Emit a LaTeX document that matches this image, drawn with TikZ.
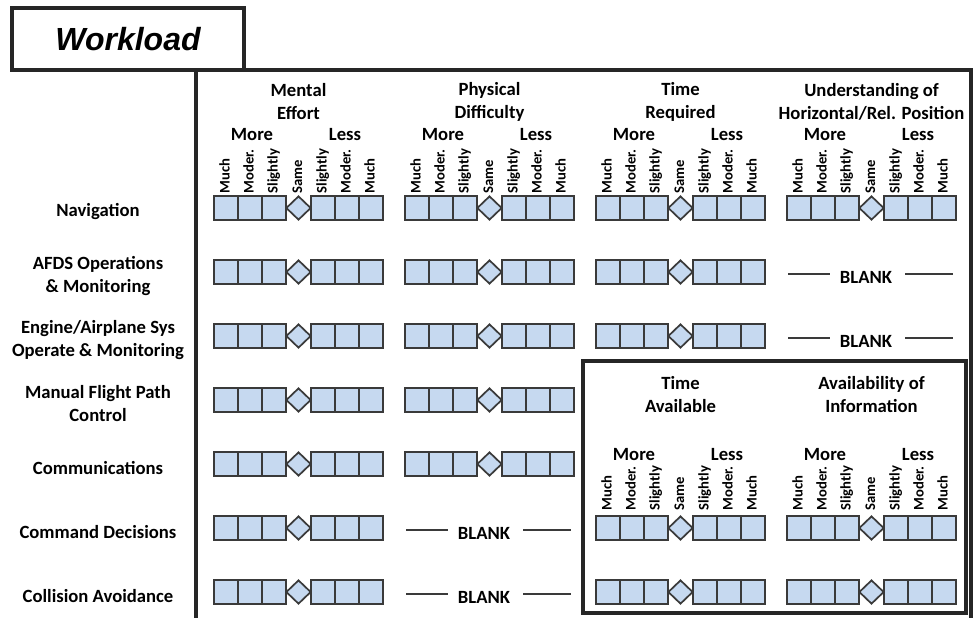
\documentclass[tikz,border=0pt]{standalone}
\usepackage{fontspec}
\setmainfont{Carlito}
\newfontfamily\titlefont{Liberation Sans}
\usepackage{tikz}
\usetikzlibrary{shapes.geometric}
\definecolor{boxfill}{HTML}{C6D9F0}
\definecolor{boxline}{HTML}{3A3A3A}
\definecolor{frameline}{HTML}{262626}

\begin{document}
\begin{tikzpicture}[x=0.75pt, y=-0.75pt, font=\fontsize{14}{17.25}\selectfont\bfseries,
    sq/.style={draw=boxline, fill=boxfill, line width=1.4pt, minimum size=18pt, inner sep=0pt, outer sep=0pt},
    dia/.style={diamond, draw=boxline, fill=boxfill, line width=1.3pt, minimum width=18.75pt, minimum height=18pt, inner sep=0pt},
    framerule/.style={draw=frameline, line width=2.3pt},
    scaletick/.style={rotate=90, anchor=west, inner sep=1pt, text height=8pt, text depth=2.5pt, font=\fontsize{11}{13}\selectfont\bfseries},
    colhead/.style={align=center, inner sep=0pt},
    rowlabel/.style={align=center, inner sep=0pt},
    blankline/.style={draw=boxline, line width=1pt}]
  \useasboundingbox (0,0) rectangle (973,618);

  % title and outer frame
  \node[framerule, minimum width=174pt, minimum height=46.5pt, outer sep=0pt, font=\titlefont\fontsize{24}{28}\selectfont\bfseries\itshape] (title) at (128,39) {Workload};
  \draw[framerule] (title.south east) -- (971,70) -- (971,618);
  \draw[framerule] (196,70) -- (196,618);
  \draw[framerule] (583,361) rectangle (966,613);

  % column heads
  \foreach \hd [count=\c] in {{Mental\\Effort},{Physical\\Difficulty},{Time\\Required},{Understanding of\\Horizontal/Rel. Position}}{
    \pgfmathsetmacro{\xo}{214+191*(\c-1)}
    \node[colhead] (head\c) at ({\xo+84.5},102) {\hd};
    \node[anchor=base, inner sep=0pt] (more\c) at ({\xo+38},140) {More};
    \node[anchor=base, inner sep=0pt] (less\c) at ({\xo+131},140) {Less};
    \foreach \t/\dx [count=\k] in {Much/12,Moder./36,Slightly/60,Same/84.5,Slightly/109,Moder./133,Much/157}
      \node[scaletick] (tick\c-\k) at ({\xo+\dx},195) {\t};
  }
  \foreach \hd [count=\c from 3] in {{Time\\Available},{Availability of\\Information}}{
    \pgfmathsetmacro{\xo}{214+191*(\c-1)}
    \node[colhead] (ihead\c) at ({\xo+84.5},395) {\hd};
    \node[anchor=base, inner sep=0pt] (imore\c) at ({\xo+38},460) {More};
    \node[anchor=base, inner sep=0pt] (iless\c) at ({\xo+131},460) {Less};
    \foreach \t/\dx [count=\k] in {Much/12,Moder./36,Slightly/60,Same/84.5,Slightly/109,Moder./133,Much/157}
      \node[scaletick] (itick\c-\k) at ({\xo+\dx},512) {\t};
  }

  % row labels
  \foreach \lab [count=\r] in {Navigation,{AFDS Operations\\\& Monitoring},{Engine/Airplane Sys\\Operate \& Monitoring},{Manual Flight Path\\Control},Communications,Command Decisions,Collision Avoidance}
    \node[rowlabel] (row\r) at (98,{208+64*(\r-1)+4}) {\lab};

  % rating scales
  \foreach \c/\r in {1/1,2/1,3/1,4/1,1/2,2/2,3/2,1/3,2/3,3/3,1/4,2/4,1/5,2/5,1/6,3/6,4/6,1/7,3/7,4/7}{
    \pgfmathsetmacro{\xo}{214+191*(\c-1)}
    \pgfmathsetmacro{\yo}{208+64*(\r-1)}
    \foreach \k in {0,1,2}{
      \node[sq] (m\c\r-\k) at ({\xo+12+24*\k},\yo) {};
      \node[sq] (l\c\r-\k) at ({\xo+109+24*\k},\yo) {};
    }
    \node[dia] (s\c\r) at ({\xo+84.5},\yo) {};
  }

  % blank cells
  \foreach \c/\r in {4/2,4/3,2/6,2/7}{
    \pgfmathsetmacro{\xo}{214+191*(\c-1)}
    \pgfmathsetmacro{\yo}{208+64*(\r-1)}
    \node[inner sep=0pt, text height=9pt, text depth=0pt] (blank\c\r) at ({\xo+79},{\yo+5}) {BLANK};
    \draw[blankline] ([yshift=2.25pt]blank\c\r.west) ++(-10,0) -- ++(-42,0);
    \draw[blankline] ([yshift=2.25pt]blank\c\r.east) ++(13,0) -- ++(48,0);
  }
\end{tikzpicture}
\end{document}
